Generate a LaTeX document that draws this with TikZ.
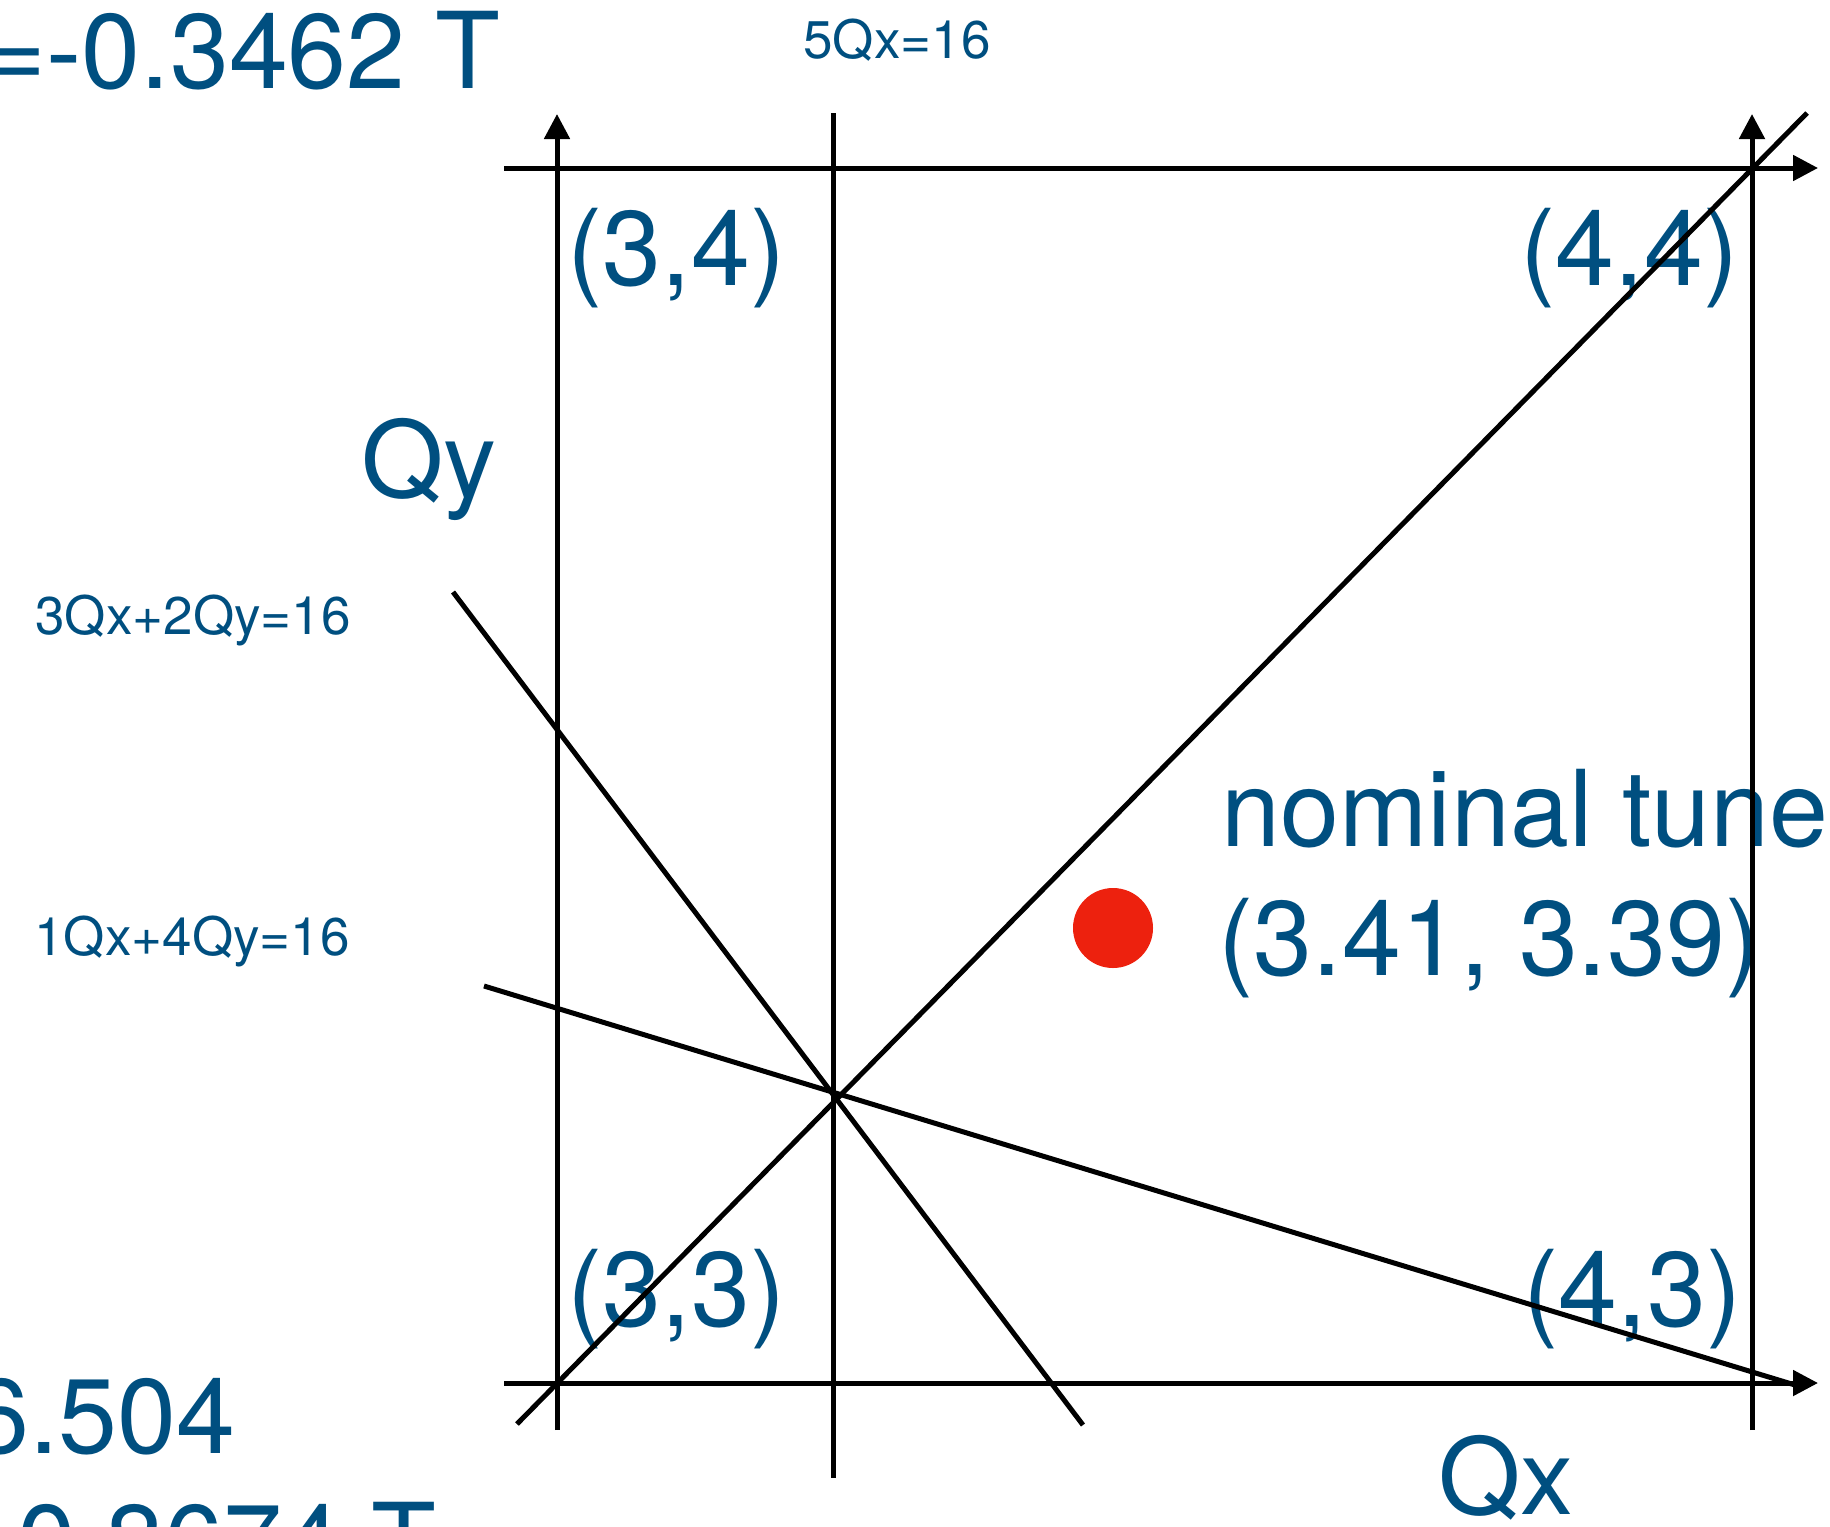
\documentclass[tikz,border=0pt]{standalone}
\usepackage{fontspec}
\setmainfont{TeX Gyre Heros}
\usetikzlibrary{arrows.meta}
\definecolor{tblue}{RGB}{0,79,128}
\definecolor{tred}{RGB}{237,33,14}
\begin{document}
\begin{tikzpicture}[x=0.5pt,y=-0.5pt,line width=2.5pt,
  big/.style={text=tblue,inner sep=0,anchor=base west,font=\fontsize{53}{60}\selectfont},
  sml/.style={text=tblue,inner sep=0,anchor=base west,font=\fontsize{26.5}{30}\selectfont},
  axisline/.style={-{Triangle[length=12.5pt,width=12.5pt]}},
  resline/.style={line cap=butt}]
\useasboundingbox (0,0) rectangle (1830,1526);
% texts
\node[big] (t1) at (-18,88) {=-0.3462 T};
\node[big] (t2) at (-32,1453) {6.504};
\node[big] (t3) at (15,1579) {0.8674 T};
\node[sml] (r5) at (801,58) {5Qx=16};
\node[sml] (r32) at (33,634) {3Qx+2Qy=16};
\node[sml] (r14) at (32,955) {1Qx+4Qy=16};
\node[big] (c34) at (565,285) {(3,4)};
\node[big] (c44) at (1518,285) {(4,4)};
\node[big] (c33) at (565,1326) {(3,3)};
\node[big] (c43) at (1521,1326) {(4,3)};
\node[big] (qy) at (359,497) {Qy};
\node[big] (qx) at (1436,1514) {Qx};
\node[big] (nt) at (1219,846) {nominal tune};
\node[big] (nv) at (1216,975) {(3.41, 3.39)};
% coordinates
\coordinate (yl0) at (557,1430); \coordinate (yl1) at (557,114);
\coordinate (yr0) at (1752,1430); \coordinate (yr1) at (1752,114);
\coordinate (xt0) at (504,168); \coordinate (xt1) at (1818,168);
\coordinate (xb0) at (504,1383); \coordinate (xb1) at (1818,1383);
\coordinate (v0) at (833,113); \coordinate (v1) at (833,1478);
\coordinate (d0) at (517,1424); \coordinate (d1) at (1807,113);
\coordinate (a0) at (453,592); \coordinate (a1) at (1083,1425);
\coordinate (b0) at (484,986); \coordinate (b1) at (1795,1385);
% lines
\draw[axisline] (yl0) -- (yl1);
\draw[axisline] (yr0) -- (yr1);
\draw[axisline] (xt0) -- (xt1);
\draw[axisline] (xb0) -- (xb1);
\draw[resline] (v0) -- (v1);
\draw[resline] (d0) -- (d1);
\draw[resline] (a0) -- (a1);
\draw[resline] (b0) -- (b1);
% nominal tune dot
\fill[tred] (1113,928) circle[radius=40];
\end{tikzpicture}
\end{document}
